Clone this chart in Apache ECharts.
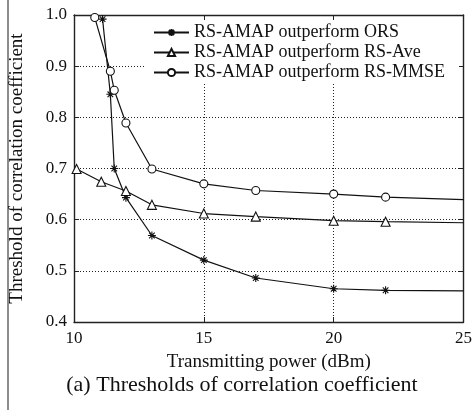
<!DOCTYPE html>
<html>
<head>
<meta charset="utf-8">
<script src="https://cdn.jsdelivr.net/npm/echarts@6/dist/echarts.min.js"></script>
<style>
  html, body { margin: 0; padding: 0; background: #fff; }
  #chart { width: 475px; height: 410px; }
</style>
</head>
<body>
<div id="chart"></div>
<script>
// Transmitting power (dBm) and correlation-coefficient thresholds per comparison
const seriesNames = [
  'RS-AMAP outperform ORS',
  'RS-AMAP outperform RS-Ave',
  'RS-AMAP outperform RS-MMSE'
];
const powerORS  = [11.1, 11.4, 11.55, 12, 13, 15, 17, 20, 22, 25];
const threshORS = [0.992, 0.845, 0.700, 0.643, 0.569, 0.521, 0.486, 0.465, 0.462, 0.461];
const powerAve  = [10.1, 11.05, 12, 13, 15, 17, 20, 22, 25];
const threshAve = [0.699, 0.674, 0.656, 0.629, 0.612, 0.606, 0.598, 0.596, 0.594];
const powerMMSE  = [10.8, 11.4, 11.55, 12, 13, 15, 17, 20, 22, 25];
const threshMMSE = [0.995, 0.890, 0.853, 0.789, 0.699, 0.670, 0.657, 0.650, 0.644, 0.639];
// the curves run on to 25 dBm without a marker at the end
const lastUnmarked = true;

const xTicks = { min: 10, max: 25, step: 5 };
const yTicks = { min: 0.4, max: 1.0, step: 0.1 };

const FONT = 'Liberation Serif';
const INK = '#111';
const STAR = 'path://M5,0L5,10M0,5L10,5M1.5,1.5L8.5,8.5M1.5,8.5L8.5,1.5';

function pairs(xs, ys) {
  return xs.map((x, i) => {
    const item = { value: [x, ys[i]] };
    if (lastUnmarked && i === xs.length - 1) item.symbol = 'none';
    return item;
  });
}

function makeSeries(name, xs, ys, symbol, size) {
  return {
    name: name,
    type: 'line',
    data: pairs(xs, ys),
    symbol: symbol,
    symbolSize: size,
    showAllSymbol: true,
    animation: false,
    lineStyle: { color: INK, width: 1.2 },
    itemStyle: {
      color: symbol === STAR ? INK : '#fff',
      borderColor: INK,
      borderWidth: 1.1
    },
    emphasis: { disabled: true },
    z: 3
  };
}

const gridLine = { show: true, lineStyle: { color: '#222', width: 1, type: [1, 2] } };
const frameLine = { show: true, onZero: false, lineStyle: { color: '#222', width: 1.4 } };
const innerTick = { show: true, inside: true, length: 5, lineStyle: { color: '#222', width: 1 } };
const tickLabel = { fontFamily: FONT, fontSize: 17, color: INK };

const chart = echarts.init(document.getElementById('chart'), null, { renderer: 'canvas' });
chart.setOption({
  backgroundColor: '#fff',
  animation: false,
  grid: { left: 72, right: 10, top: 15, bottom: 88 },
  legend: {
    data: seriesNames,
    orient: 'vertical',
    left: 153,
    top: 23,
    padding: 0,
    itemGap: 1,
    itemWidth: 35,
    itemHeight: 9,
    textStyle: { fontFamily: FONT, fontSize: 18, color: INK, lineHeight: 19 }
  },
  xAxis: [
    {
      type: 'value',
      position: 'bottom',
      min: xTicks.min, max: xTicks.max, interval: xTicks.step,
      name: 'Transmitting power (dBm)',
      nameLocation: 'middle',
      nameGap: 31,
      nameTextStyle: { fontFamily: FONT, fontSize: 19, color: INK },
      axisLine: frameLine,
      axisTick: innerTick,
      axisLabel: Object.assign({ margin: 8 }, tickLabel),
      splitLine: gridLine
    },
    {
      type: 'value',
      position: 'top',
      min: xTicks.min, max: xTicks.max, interval: xTicks.step,
      axisLine: frameLine,
      axisTick: innerTick,
      axisLabel: { show: false },
      splitLine: { show: false }
    }
  ],
  yAxis: [
    {
      type: 'value',
      position: 'left',
      min: yTicks.min, max: yTicks.max, interval: yTicks.step,
      name: 'Threshold of correlation coefficient',
      nameLocation: 'middle',
      nameGap: 47,
      nameTextStyle: { fontFamily: FONT, fontSize: 19, color: INK },
      axisLine: frameLine,
      axisTick: innerTick,
      axisLabel: Object.assign({ margin: 7, formatter: v => v.toFixed(1) }, tickLabel),
      splitLine: gridLine
    },
    {
      type: 'value',
      position: 'right',
      min: yTicks.min, max: yTicks.max, interval: yTicks.step,
      axisLine: frameLine,
      axisTick: innerTick,
      axisLabel: { show: false },
      splitLine: { show: false }
    }
  ],
  graphic: [
    {
      type: 'line',
      shape: { x1: 8, y1: 0, x2: 8, y2: 410 },
      style: { stroke: '#666', lineWidth: 1.5 },
      silent: true
    },
    {
      // blank panel behind the legend, covering the dotted grid
      type: 'rect',
      shape: { x: 145, y: 21, width: 314, height: 61 },
      style: { fill: '#fff' },
      z: 1,
      silent: true
    },
    {
      type: 'text',
      x: 242,
      y: 385,
      style: {
        text: '(a) Thresholds of correlation coefficient',
        fontFamily: FONT,
        fontSize: 22,
        fill: INK,
        align: 'center',
        verticalAlign: 'middle'
      },
      silent: true
    }
  ],
  series: [
    makeSeries(seriesNames[0], powerORS, threshORS, STAR, 8),
    makeSeries(seriesNames[1], powerAve, threshAve, 'triangle', 9),
    makeSeries(seriesNames[2], powerMMSE, threshMMSE, 'circle', 8)
  ]
});
</script>
</body>
</html>
